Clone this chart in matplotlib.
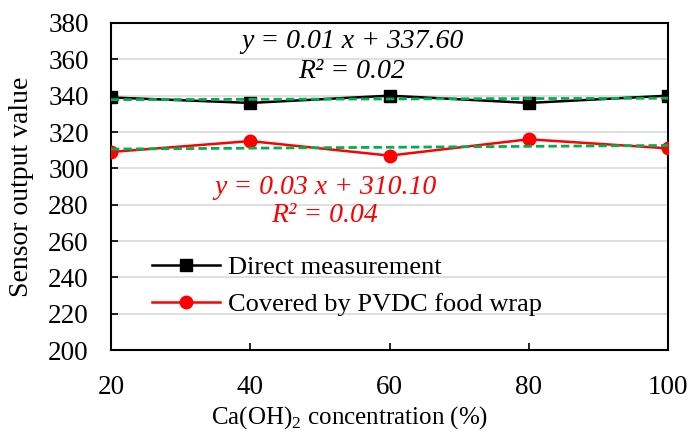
import numpy as np
import matplotlib.pyplot as plt

plt.rcParams['font.family'] = ['Liberation Serif', 'DejaVu Serif']
plt.rcParams['mathtext.fontset'] = 'custom'
plt.rcParams['mathtext.rm'] = 'Liberation Serif'

# Ca(OH)2 concentration (%) and sensor readings
conc = [20, 40, 60, 80, 100]
direct = [339, 336, 340, 336, 340]
covered = [309, 315, 307, 316, 311]

W, H = 690, 438
fig = plt.figure(figsize=(W / 100, H / 100), dpi=100)
ax = fig.add_axes([111 / W, 1 - 350 / H, 557 / W, 327 / H])

ax.plot(conc, direct, color='black', lw=1.8, marker='s', ms=8.5,
        label='Direct measurement', zorder=3)
ax.plot(conc, covered, color='red', lw=1.8, marker='o', ms=9,
        label='Covered by PVDC food wrap', zorder=3)

# linear trend lines
xs = np.array(conc, dtype=float)
for ys in (direct, covered):
    k, b = np.polyfit(xs, ys, 1)
    ax.plot(xs, k * xs + b, color='#00b050', lw=2, ls=(0, (3, 1.5)), zorder=4)


def px_text(x, y, s, **kw):
    fig.text(x / W, 1 - y / H, s, fontsize=20, style='italic',
             ha='center', va='center', **kw)


px_text(352, 42, 'y = 0.01 x + 337.60')
px_text(352, 72, 'R² = 0.02')
px_text(325, 187, 'y = 0.03 x + 310.10', color='red')
px_text(325, 216, 'R² = 0.04', color='red')

ax.set_xlim(20, 100)
ax.set_ylim(200, 380)
ax.set_xticks([20, 40, 60, 80, 100])
ax.set_yticks(np.arange(200, 381, 20))
ax.yaxis.grid(True, color='#d9d9d9', lw=1.2)
ax.set_axisbelow(True)
ax.tick_params(direction='in', length=5, width=1.2, labelsize=19.5)
ax.tick_params(axis='x', pad=18)
ax.tick_params(axis='y', pad=16)
for s in ax.spines.values():
    s.set_linewidth(1.5)

ax.set_xlabel('Ca(OH)$_2$ concentration (%)', fontsize=18)
ax.xaxis.set_label_coords((350 - 111) / 557, -(404 - 350) / 327)
ax.set_ylabel('Sensor output value', fontsize=20)
ax.yaxis.set_label_coords(-(111 - 34) / 557, 0.5)

ax.legend(loc='upper left', bbox_to_anchor=(30 / 557, (350 - 245) / 327),
          frameon=False, fontsize=19, handlelength=2.6, handletextpad=0.3,
          labelspacing=0.52, borderaxespad=0)

fig.savefig('out.png', dpi=100)
